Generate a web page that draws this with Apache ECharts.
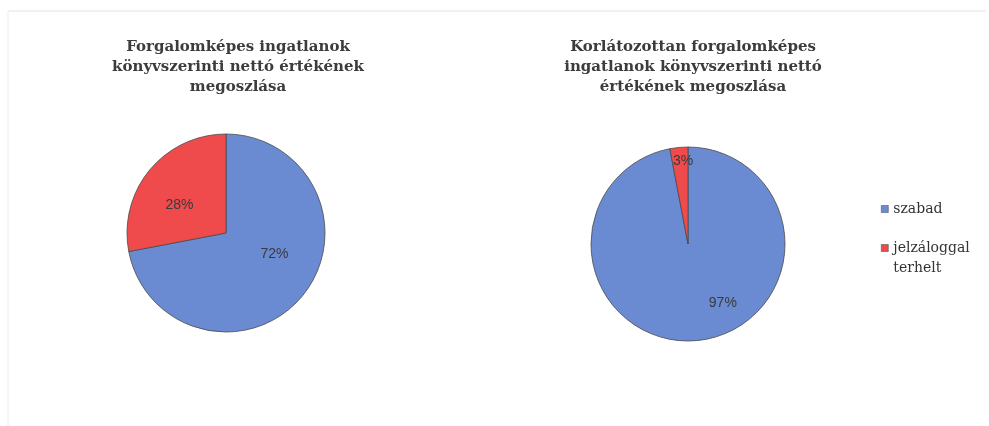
<!DOCTYPE html>
<html>
<head>
<meta charset="utf-8">
<script src="https://cdn.jsdelivr.net/npm/echarts@6/dist/echarts.min.js"></script>
<style>
  html, body { margin: 0; padding: 0; background: #fff; }
  #chart { width: 989px; height: 426px; }
</style>
</head>
<body>
<div id="chart"></div>
<script>
// Shares of book net value: free vs. mortgaged property
const categories = ['szabad', 'jelzáloggal terhelt'];
const marketableValues = [72, 28];
const restrictedValues = [97, 3];
const titles = [
  'Forgalomképes ingatlanok\nkönyvszerinti nettó értékének\nmegoszlása',
  'Korlátozottan forgalomképes\ningatlanok könyvszerinti nettó\nértékének megoszlása'
];
const colors = ['#6a8bd2', '#ef4b4c'];

const labelFont = { fontFamily: 'Liberation Sans', fontSize: 14, color: '#3a3a3a' };
const titleFont = { fontFamily: 'DejaVu Serif', fontWeight: 'bold', fontSize: 15, lineHeight: 20, color: '#3c3c3c' };

function pieData(values, offsets) {
  return values.map((v, i) => ({
    name: categories[i],
    value: v,
    label: { offset: offsets[i] }
  }));
}

// Multi-word legend names wrap; an empty first line keeps the marker level with the first word
function legendText(name) {
  const words = name.split(' ');
  if (words.length === 1) return '{a|' + name + '}';
  return '{p| }\n' + words.map(w => '{a|' + w + '}').join('\n');
}

const chart = echarts.init(document.getElementById('chart'), null, { renderer: 'canvas' });

chart.setOption({
  backgroundColor: '#ffffff',
  color: colors,
  animation: false,
  graphic: [
    { type: 'line', shape: { x1: 8, y1: 11, x2: 986, y2: 11 }, style: { stroke: '#e2e2e2', lineWidth: 1 } },
    { type: 'line', shape: { x1: 8, y1: 11, x2: 8, y2: 426 }, style: { stroke: '#ececec', lineWidth: 1 } }
  ],
  title: [
    { text: titles[0], left: 233, top: 32, textAlign: 'center', textStyle: titleFont },
    { text: titles[1], left: 688, top: 32, textAlign: 'center', textStyle: titleFont }
  ],
  legend: {
    orient: 'vertical',
    left: 876,
    top: 197,
    itemGap: 5,
    icon: 'rect',
    itemWidth: 7,
    itemHeight: 7,
    itemStyle: { borderColor: '#555', borderWidth: 0.6 },
    textStyle: {
      fontFamily: 'DejaVu Serif', fontSize: 14, color: '#333',
      rich: {
        a: { fontFamily: 'DejaVu Serif', fontSize: 14, lineHeight: 20, color: '#333' },
        p: { fontSize: 14, lineHeight: 20 }
      }
    },
    formatter: legendText,
    data: categories
  },
  series: [
    {
      type: 'pie',
      center: [226, 233],
      radius: 99,
      startAngle: 90,
      clockwise: true,
      silent: true,
      itemStyle: { borderColor: '#4a4a4a', borderWidth: 0.8 },
      label: Object.assign({ show: true, position: 'inside', formatter: '{c}%' }, labelFont),
      labelLine: { show: false },
      data: pieData(marketableValues, [[8, -12], [-6, 6]])
    },
    {
      type: 'pie',
      center: [688, 244],
      radius: 97,
      startAngle: 90,
      clockwise: true,
      silent: true,
      itemStyle: { borderColor: '#4a4a4a', borderWidth: 0.8 },
      label: Object.assign({ show: true, position: 'inside', formatter: '{c}%' }, labelFont),
      labelLine: { show: false },
      data: pieData(restrictedValues, [[30, 8], [0, -32]])
    }
  ]
});
</script>
</body>
</html>
